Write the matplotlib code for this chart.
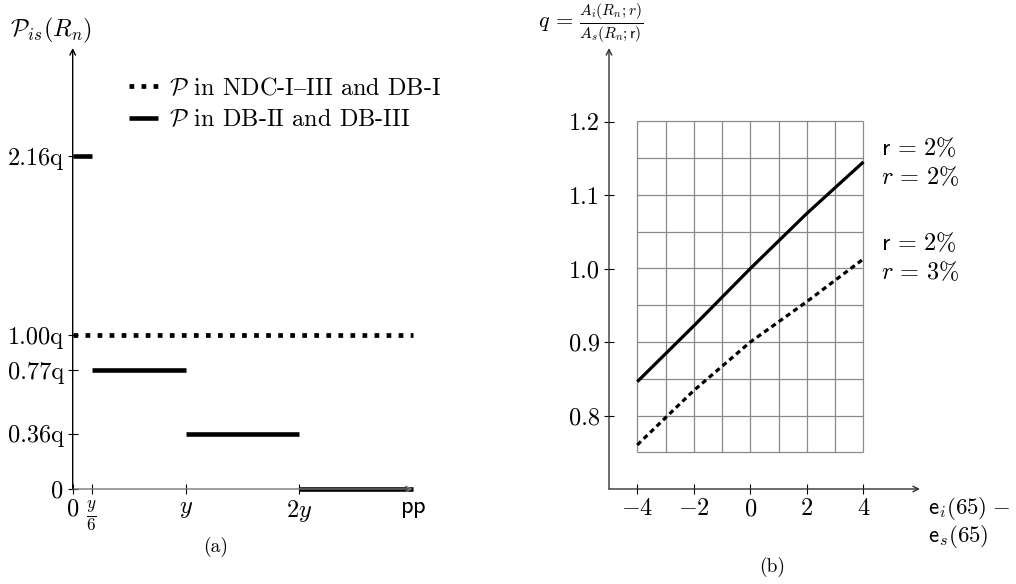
import numpy as np
import matplotlib
matplotlib.use("Agg")
import matplotlib.pyplot as plt

plt.rcParams['font.family'] = ['cmr10', 'DejaVu Serif']
plt.rcParams['mathtext.fontset'] = 'cm'
plt.rcParams['axes.unicode_minus'] = False
plt.rcParams['axes.formatter.use_mathtext'] = True

# panel (a): pension level by retirement duration
pp_max = 3.0
flat_level = 1.00
seg_start = [0.0, 1 / 6, 1.0, 2.0]
seg_end = [1 / 6, 1.0, 2.0, 3.0]
seg_level = [2.16, 0.77, 0.36, 0.0]
a_yticks = [0.0, 0.36, 0.77, 1.00, 2.16]
a_ylabels = ['0', '0.36q', '0.77q', '1.00q', '2.16q']
a_xticks = [0.0, 1 / 6, 1.0, 2.0, 3.0]
a_xlabels = ['0', r'$\frac{y}{6}$', r'$y$', r'$2y$', r'$\mathsf{pp}$']

# panel (b): q vs difference in life expectancy
e_diff = [-4, -2, 0, 2, 4]
q_r2 = [0.846, 0.922, 1.000, 1.075, 1.145]
q_r3 = [0.760, 0.834, 0.900, 0.955, 1.013]
b_xticks = [-4, -2, 0, 2, 4]
b_yticks = [0.8, 0.9, 1.0, 1.1, 1.2]

W, H = 1016, 584
fig = plt.figure(figsize=(W / 100, H / 100), dpi=100)


def px_axes(x0, x1, ytop, ybot):
    return fig.add_axes([x0 / W, 1 - ybot / H, (x1 - x0) / W, (ybot - ytop) / H])


def arrow(ax, start, end, color):
    ax.annotate('', xy=end, xytext=start, annotation_clip=False,
                arrowprops=dict(arrowstyle='->', color=color, lw=1.0,
                                shrinkA=0, shrinkB=0, mutation_scale=10))


FS = 17.5

# ---- panel (a)
ax = px_axes(72.7, 412.7, 48, 489)
ax.set_xlim(0, pp_max)
ax.set_ylim(0, 2.864)
for s in ax.spines.values():
    s.set_visible(False)
arrow(ax, (0, 0), (pp_max, 0), '#777777')
arrow(ax, (0, 0), (0, 2.864), 'black')

ax.plot([0, pp_max], [flat_level, flat_level], color='k', lw=3.4,
        linestyle=(0, (1, 1.55)), dash_capstyle='butt',
        label=r'$\mathcal{P}$ in NDC-I$\mathrm{–}$III and DB-I', clip_on=False)
for i, (a, b, v) in enumerate(zip(seg_start, seg_end, seg_level)):
    ax.plot([a, b], [v, v], color='k', lw=3.3, solid_capstyle='butt',
            clip_on=False, label=r'$\mathcal{P}$ in DB-II and DB-III' if i == 0 else None)

ax.set_yticks(a_yticks)
ax.set_yticklabels(a_ylabels)
ax.set_xticks(a_xticks)
ax.set_xticklabels(a_xlabels)
ax.tick_params(direction='inout', length=7, width=0.8, labelsize=FS, pad=3)
ax.xaxis.get_major_ticks()[-1].tick1line.set_visible(False)

ax.legend(loc='upper left', bbox_to_anchor=(129 / W, 1 - 77 / H),
          bbox_transform=fig.transFigure, frameon=False, fontsize=FS,
          handlelength=1.2, handletextpad=0.45, borderpad=0, borderaxespad=0,
          labelspacing=0.35)

fig.text(10 / W, 1 - 30 / H, r'$\mathcal{P}_{is}(R_n)$', fontsize=FS,
         ha='left', va='center')
fig.text(216 / W, 1 - 547 / H, '(a)', fontsize=14, ha='center', va='center')

# ---- panel (b)
bx = px_axes(609, 920, 48, 489)
bx.set_xlim(-5, 6)
bx.set_ylim(0.70, 1.30)
for s in bx.spines.values():
    s.set_visible(False)
arrow(bx, (-5, 0.70), (6, 0.70), '#333333')
arrow(bx, (-5, 0.70), (-5, 1.30), '#333333')

gx = np.arange(min(e_diff), max(e_diff) + 0.5, 1)
gy = np.arange(0.75, 1.2 + 0.01, 0.05)
bx.vlines(gx, gy[0], gy[-1], color='#8a8a8a', lw=0.9)
bx.hlines(gy, gx[0], gx[-1], color='#8a8a8a', lw=0.9)

bx.plot(e_diff, q_r2, color='k', lw=2.3, solid_capstyle='butt')
bx.plot(e_diff, q_r3, color='k', lw=2.3, linestyle=(0, (1.6, 1.2)),
        dash_capstyle='butt')

bx.set_xticks(b_xticks)
bx.set_xticklabels([rf'${v}$' if v >= 0 else rf'$-{abs(v)}$' for v in b_xticks])
bx.set_yticks(b_yticks)
bx.set_yticklabels([f'{v:.1f}' for v in b_yticks])
bx.tick_params(direction='inout', length=7, width=0.8, labelsize=FS, pad=3)

tx = 4.62
bx.text(tx, 1.164, r'$\mathsf{r}\,=\,2\%$', fontsize=FS, va='center', ha='left')
bx.text(tx, 1.124, r'$r\,=\,2\%$', fontsize=FS, va='center', ha='left')
bx.text(tx, 1.035, r'$\mathsf{r}\,=\,2\%$', fontsize=FS, va='center', ha='left')
bx.text(tx, 0.995, r'$r\,=\,3\%$', fontsize=FS, va='center', ha='left')

fig.text(928 / W, 1 - 508 / H, r'$\mathsf{e}_i(65)\;{-}$', fontsize=16.5,
         ha='left', va='center')
fig.text(928 / W, 1 - 537 / H, r'$\mathsf{e}_s(65)$', fontsize=16.5,
         ha='left', va='center')
fig.text(538 / W, 1 - 23 / H, r'$q\,=\,\frac{A_i(R_n;r)}{A_s(R_n;\mathsf{r})}$',
         fontsize=16, ha='left', va='center')
fig.text(772 / W, 1 - 567 / H, '(b)', fontsize=14, ha='center', va='center')

fig.savefig('out.png', dpi=100)
